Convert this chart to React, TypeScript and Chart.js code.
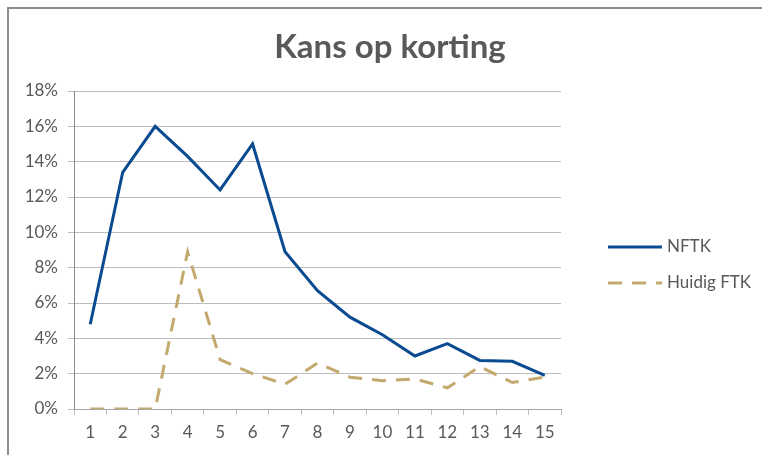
import React, { useEffect, useRef } from 'react';
import { Chart, registerables } from 'chart.js';

Chart.register(...registerables);

const TITLE = 'Kans op korting';
const categories = ['1', '2', '3', '4', '5', '6', '7', '8', '9', '10', '11', '12', '13', '14', '15'];
const seriesNames = ['NFTK', 'Huidig FTK'];
const nftkValues = [4.8, 13.4, 16.0, 14.3, 12.4, 15.0, 8.9, 6.7, 5.2, 4.2, 3.0, 3.7, 2.75, 2.7, 1.9];
const huidigValues = [0, 0, 0, 8.9, 2.8, 2.0, 1.4, 2.6, 1.8, 1.6, 1.7, 1.2, 2.4, 1.5, 1.8];
const yMin = 0;
const yMax = 18;
const yStep = 2;

const FONT = 'Lato, "Open Sans", sans-serif';
const TEXT = '#595959';

const decor = {
  id: 'decor',
  beforeDraw(chart: any) {
    const ctx = chart.ctx;
    ctx.save();
    ctx.strokeStyle = '#8c8c8c';
    ctx.lineWidth = 2;
    ctx.strokeRect(8, 8, 900, 600);
    ctx.restore();
  },
  afterDraw(chart: any) {
    const ctx = chart.ctx;
    ctx.save();
    ctx.fillStyle = TEXT;
    ctx.font = `bold 33px ${FONT}`;
    ctx.textAlign = 'center';
    ctx.textBaseline = 'middle';
    ctx.fillText(TITLE, 390, 47);

    const rows = [247, 283];
    chart.data.datasets.forEach((ds: any, i: number) => {
      const y = rows[i];
      ctx.beginPath();
      ctx.strokeStyle = ds.borderColor;
      ctx.lineWidth = ds.borderWidth;
      ctx.setLineDash(ds.borderDash || []);
      ctx.moveTo(608, y);
      ctx.lineTo(662, y);
      ctx.stroke();
      ctx.setLineDash([]);
      ctx.fillStyle = TEXT;
      ctx.font = `17px ${FONT}`;
      ctx.textAlign = 'left';
      ctx.textBaseline = 'middle';
      ctx.fillText(ds.label, 667, y);
    });
    ctx.restore();
  },
};

export default function App() {
  const ref = useRef<HTMLCanvasElement | null>(null);

  useEffect(() => {
    if (!ref.current) return;
    const chart = new Chart(ref.current, {
      type: 'line',
      data: {
        labels: categories,
        datasets: [
          {
            label: seriesNames[0],
            data: nftkValues,
            borderColor: '#0a4a90',
            borderWidth: 3,
            pointRadius: 0,
            tension: 0,
            fill: false,
          },
          {
            label: seriesNames[1],
            data: huidigValues,
            borderColor: '#c4a96f',
            borderWidth: 3,
            borderDash: [14, 10],
            pointRadius: 0,
            tension: 0,
            fill: false,
          },
        ],
      },
      options: {
        animation: false,
        responsive: false,
        devicePixelRatio: 1,
        layout: { padding: { left: 8, right: 201, top: 91, bottom: 0 } },
        plugins: {
          legend: { display: false },
          title: { display: false },
          tooltip: { enabled: false },
        },
        scales: {
          x: {
            offset: true,
            grid: {
              display: true,
              drawOnChartArea: false,
              drawTicks: true,
              tickLength: 6,
              color: '#bdbdbd',
              offset: true,
            },
            border: { color: '#a6a6a6', width: 1 },
            ticks: { color: TEXT, font: { family: FONT, size: 17 }, padding: 7, maxRotation: 0, autoSkip: false },
            afterFit: (s: any) => { s.height = 46; },
          },
          y: {
            min: yMin,
            max: yMax,
            grid: { color: '#bdbdbd', tickLength: 6 },
            border: { color: '#8a8a8a', width: 1 },
            ticks: {
              stepSize: yStep,
              color: TEXT,
              font: { family: FONT, size: 17 },
              padding: 10,
              callback: (v: any) => `${v}%`,
            },
            afterFit: (s: any) => { s.width = 66; },
          },
        },
      },
      plugins: [decor],
    });
    return () => chart.destroy();
  }, []);

  return (
    <div style={{ position: 'absolute', left: 0, top: 0, width: 762, height: 455, background: '#fff' }}>
      <canvas ref={ref} width={762} height={455} style={{ display: 'block' }} />
    </div>
  );
}
